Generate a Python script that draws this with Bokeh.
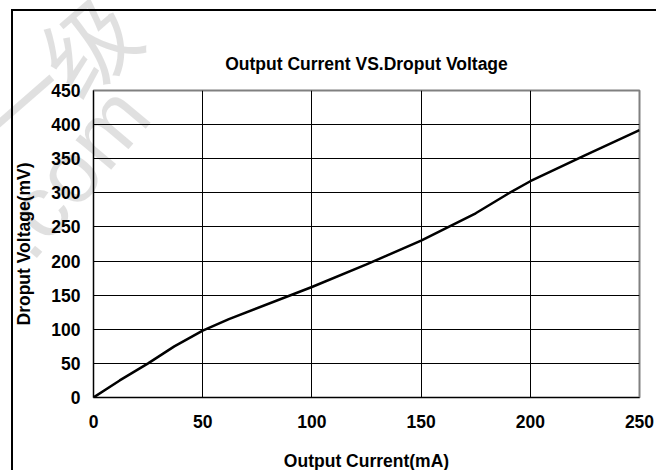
from bokeh.plotting import figure
from bokeh.models import Title, FixedTicker, Range1d, InlineStyleSheet
from bokeh.embed import file_html
from bokeh.resources import INLINE

# ---- data ----
current_ma = [0, 12, 25, 37, 50, 62, 100, 125, 150, 175, 190, 200, 225, 250]
dropout_mv = [0, 25, 50, 75, 98, 115, 162, 195, 230, 270, 299, 317, 355, 392]
x_ticks = [0, 50, 100, 150, 200, 250]
y_ticks = [0, 50, 100, 150, 200, 250, 300, 350, 400, 450]
title_text = "Output Current VS.Droput Voltage"
x_title = "Output Current(mA)"
y_title = "Droput Voltage(mV)"
watermark_a = "一级"
watermark_b = ".com"

FONT = "Liberation Sans"
FS = "17.5px"
W, H = 656, 470
ML, MR, MT, MB = 93, 17, 90, 73

p = figure(width=W, height=H, output_backend="svg", toolbar_location=None,
           x_range=Range1d(0, 250), y_range=Range1d(0, 450),
           min_border_left=ML, min_border_right=MR,
           min_border_top=MT, min_border_bottom=MB)
p.background_fill_color = "white"
p.border_fill_color = None
p.outline_line_color = "#808080"
p.outline_line_width = 2

for ax in (p.xaxis[0], p.yaxis[0]):
    ax.axis_line_color = "black"
    ax.axis_line_width = 1
    ax.major_tick_out = 0
    ax.major_tick_in = 0
    ax.minor_tick_out = 0
    ax.minor_tick_in = 0
    ax.major_label_text_font = FONT
    ax.major_label_text_font_style = "bold"
    ax.major_label_text_font_size = FS
    ax.major_label_text_color = "black"
p.xaxis[0].ticker = FixedTicker(ticks=x_ticks)
p.yaxis[0].ticker = FixedTicker(ticks=y_ticks)
p.xaxis[0].major_label_standoff = 17
p.yaxis[0].major_label_standoff = 13

p.yaxis[0].axis_label = y_title
p.yaxis[0].axis_label_text_font = FONT
p.yaxis[0].axis_label_text_font_style = "bold"
p.yaxis[0].axis_label_text_font_size = FS
p.yaxis[0].axis_label_text_color = "black"
p.yaxis[0].axis_label_standoff = 14

p.xgrid.ticker = FixedTicker(ticks=x_ticks)
p.ygrid.ticker = FixedTicker(ticks=y_ticks)
for g in (p.xgrid[0], p.ygrid[0]):
    g.grid_line_color = "black"
    g.grid_line_width = 1

p.line(current_ma, dropout_mv, line_color="black", line_width=2.5)

# chart title (centred on the whole chart area, not the plot frame)
p.title.text = title_text
p.title.align = "center"
p.title.offset = -27
p.title.standoff = 33
p.title.text_font = FONT
p.title.text_font_style = "bold"
p.title.text_font_size = FS
p.title.text_color = "black"

# x-axis title: a leading blank line pads the panel so the text sits low
p.add_layout(Title(text="\n" + x_title, align="center", offset=-20, standoff=-4,
                   text_font=FONT, text_font_style="bold",
                   text_font_size=FS, text_color="black"), "below")

# outer chart border (top + left) as host background, faint watermark on top
css = f"""
:host {{
  position: relative;
  background:
    linear-gradient(#000, #000) 11px 9px / 100% 2px no-repeat,
    linear-gradient(#000, #000) 11px 9px / 2px 100% no-repeat,
    #fff;
}}
:host::before {{
  content: "{watermark_a}";
  white-space: nowrap;
  position: absolute; left: 52px; top: 72px;
  transform: translate(-50%, -50%) rotate(-41deg);
  font-family: 'Noto Sans CJK SC', sans-serif;
  font-size: 92px; line-height: 1; color: rgba(0, 0, 0, 0.12);
  pointer-events: none; z-index: 5;
}}
:host::after {{
  content: "{watermark_b}";
  white-space: nowrap;
  position: absolute; left: 70px; top: 172px;
  transform: translate(-50%, -50%) rotate(-50deg);
  font-family: 'Liberation Sans', sans-serif;
  font-size: 88px; line-height: 1; color: rgba(0, 0, 0, 0.12);
  pointer-events: none; z-index: 5;
}}
"""
p.stylesheets = [InlineStyleSheet(css=css)]

open("out.html", "w").write(file_html(p, INLINE))
